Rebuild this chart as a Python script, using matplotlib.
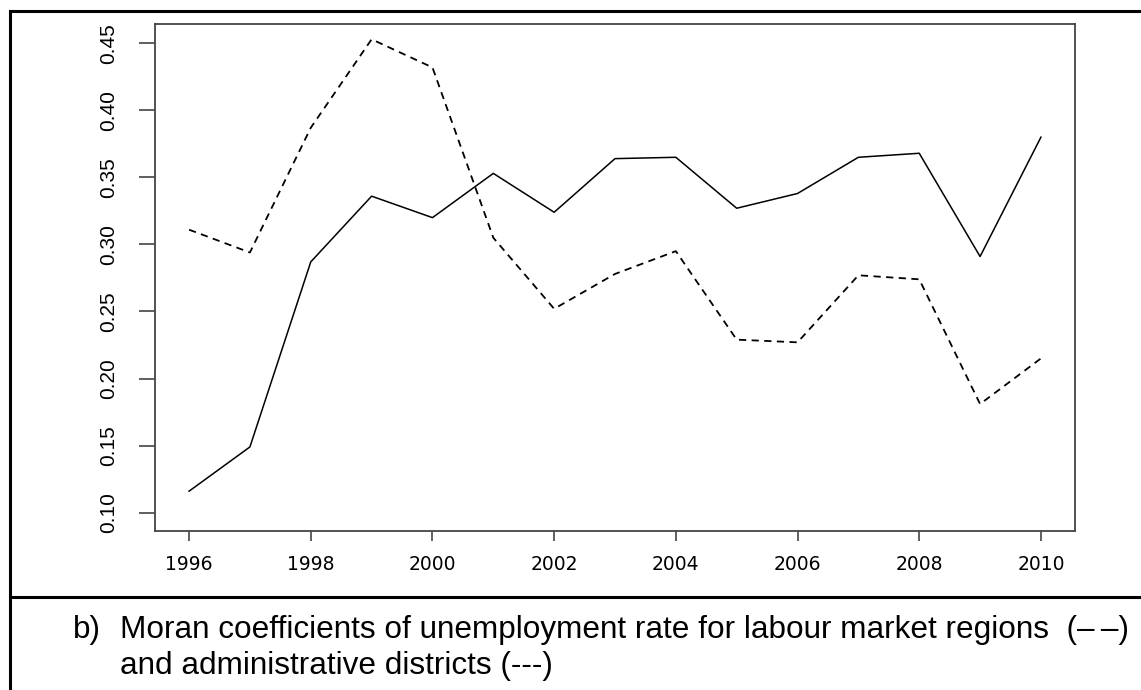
import matplotlib
matplotlib.use('Agg')
import matplotlib.pyplot as plt
from matplotlib.lines import Line2D

years = list(range(1996, 2011))

# Moran coefficients, labour market regions (solid line)
labour_market = [0.116, 0.149, 0.287, 0.336, 0.320, 0.353, 0.324, 0.364, 0.365,
                 0.327, 0.338, 0.365, 0.368, 0.291, 0.380]

# Moran coefficients, administrative districts (dashed line)
admin_districts = [0.311, 0.294, 0.387, 0.453, 0.432, 0.305, 0.252, 0.278, 0.295,
                   0.229, 0.227, 0.277, 0.274, 0.181, 0.215]

x_ticks = [1996, 1998, 2000, 2002, 2004, 2006, 2008, 2010]
y_ticks = [0.10, 0.15, 0.20, 0.25, 0.30, 0.35, 0.40, 0.45]

caption_1 = "Moran coefficients of unemployment rate for labour market regions  (\u2013\u2009\u2013)"
caption_2 = "and administrative districts (---)"

W, H = 1141, 690
fig = plt.figure(figsize=(W / 100, H / 100), dpi=100)
ax = fig.add_axes([155 / W, 1 - 531 / H, (1075 - 155) / W, (531 - 24) / H])

ax.plot(years, labour_market, color='black', linewidth=1.1, linestyle='-')
ax.plot(years, admin_districts, color='black', linewidth=1.3, linestyle=(0, (4, 3)))

ax.set_xlim(1995.44, 2010.56)
ax.set_ylim(0.0863, 0.4644)
ax.set_xticks(x_ticks)
ax.set_yticks(y_ticks)
ax.set_xticklabels([str(t) for t in x_ticks], fontsize=13.5, family='DejaVu Sans')
ax.set_yticklabels(['%.2f' % t for t in y_ticks], fontsize=15, family='Liberation Sans',
                   rotation=90, va='center')

for s in ax.spines.values():
    s.set_color('#444444')
    s.set_linewidth(1.3)
ax.tick_params(axis='y', length=11.5, width=1.2, color='#444444', pad=15)
ax.tick_params(axis='x', length=7.2, width=1.2, color='#444444', pad=10)

# table-like border round the figure and caption
fig.add_artist(Line2D([10 / W, 1.0], [1 - 11 / H, 1 - 11 / H], color='black', linewidth=2.2,
                      transform=fig.transFigure))
fig.add_artist(Line2D([10 / W, 10 / W], [1 - 11 / H, 0.0], color='black', linewidth=2.2,
                      transform=fig.transFigure))
fig.add_artist(Line2D([10 / W, 1.0], [1 - 597 / H, 1 - 597 / H], color='black', linewidth=2.2,
                      transform=fig.transFigure))

cap_font = dict(fontsize=22.7, family=['Liberation Sans', 'DejaVu Sans'], va='baseline')
fig.text(73 / W, 1 - 638 / H, "b)", **cap_font)
fig.text(120 / W, 1 - 638 / H, caption_1, **cap_font)
fig.text(120 / W, 1 - 674 / H, caption_2, **cap_font)

fig.savefig('out.png', dpi=100)
